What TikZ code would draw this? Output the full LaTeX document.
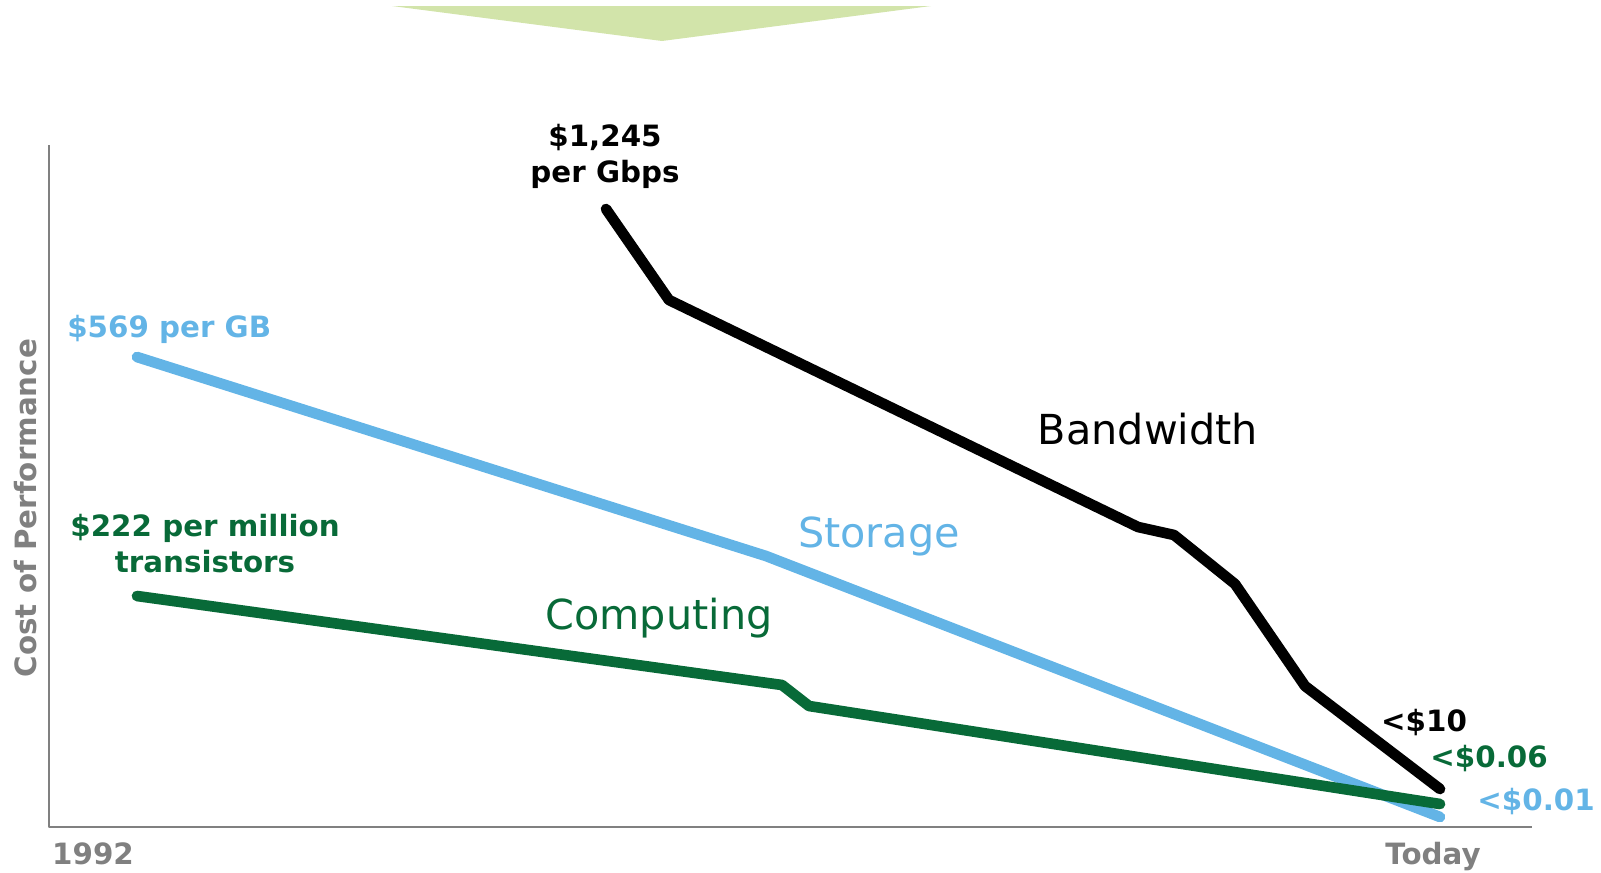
\documentclass[tikz,border=0pt]{standalone}
\usepackage{fontspec}
\setmainfont{DejaVu Sans}
\usetikzlibrary{positioning}
\definecolor{bandblack}{RGB}{0,0,0}
\definecolor{storeblue}{RGB}{99,180,230}
\definecolor{compgreen}{RGB}{8,106,56}
\definecolor{axisgray}{RGB}{128,128,128}
\definecolor{bannergreen}{RGB}{210,228,170}

\begin{document}
\begin{tikzpicture}[x=0.75pt,y=-0.75pt,
    trend/.style={line width=8pt,line cap=round,line join=round},
    costlabel/.style={font=\fontsize{22}{27}\selectfont\bfseries,align=center,inner sep=0pt},
    serieslabel/.style={font=\fontsize{31}{36}\selectfont,inner sep=0pt}]
    % Page size in pixels of the reference
    \useasboundingbox (0,0) rectangle (1601,872);
    % Banner at the top
    \fill[bannergreen] (392,6) -- (931,6) -- (662,41) -- cycle;
    % Axes
    \draw[axisgray,line width=2pt,line join=round] (49,145) -- (49,827) -- (1532,827);
    \node[costlabel,text=axisgray,rotate=90] (yaxis) at (26,508) {Cost of Performance};
    \node[costlabel,text=axisgray] (start) at (93,854) {1992};
    \node[costlabel,text=axisgray] (today) at (1433,857) {Today};
    % Bandwidth curve
    \draw[trend,bandblack] (606,209) -- (669,300) -- (1138,527) -- (1174,535)
        -- (1235,584) -- (1305,686) -- (1440,789);
    % Storage curve
    \draw[trend,storeblue] (137,357) -- (766,556) -- (1440,817);
    % Computing curve
    \draw[trend,compgreen] (137,596) -- (782,685) -- (809,706) -- (1440,804);
    % Start values
    \node[costlabel,text=bandblack] (bwstart) at (605,156) {\$1,245\\per Gbps};
    \node[costlabel,text=storeblue,anchor=west] (ststart) at (67,329) {\$569 per GB};
    \node[costlabel,text=compgreen] (cpstart) at (205,544) {\$222 per million\\transistors};
    % Series names
    \node[serieslabel,text=bandblack] (bwname) at (1148,429) {Bandwidth};
    \node[serieslabel,text=storeblue] (stname) at (879,536) {Storage};
    \node[serieslabel,text=compgreen] (cpname) at (659,618) {Computing};
    % End values
    \node[costlabel,text=bandblack] (bwend) at (1424,722) {<\$10};
    \node[costlabel,text=compgreen] (cpend) at (1489,758) {<\$0.06};
    \node[costlabel,text=storeblue] (stend) at (1536,801) {<\$0.01};
\end{tikzpicture}
\end{document}
